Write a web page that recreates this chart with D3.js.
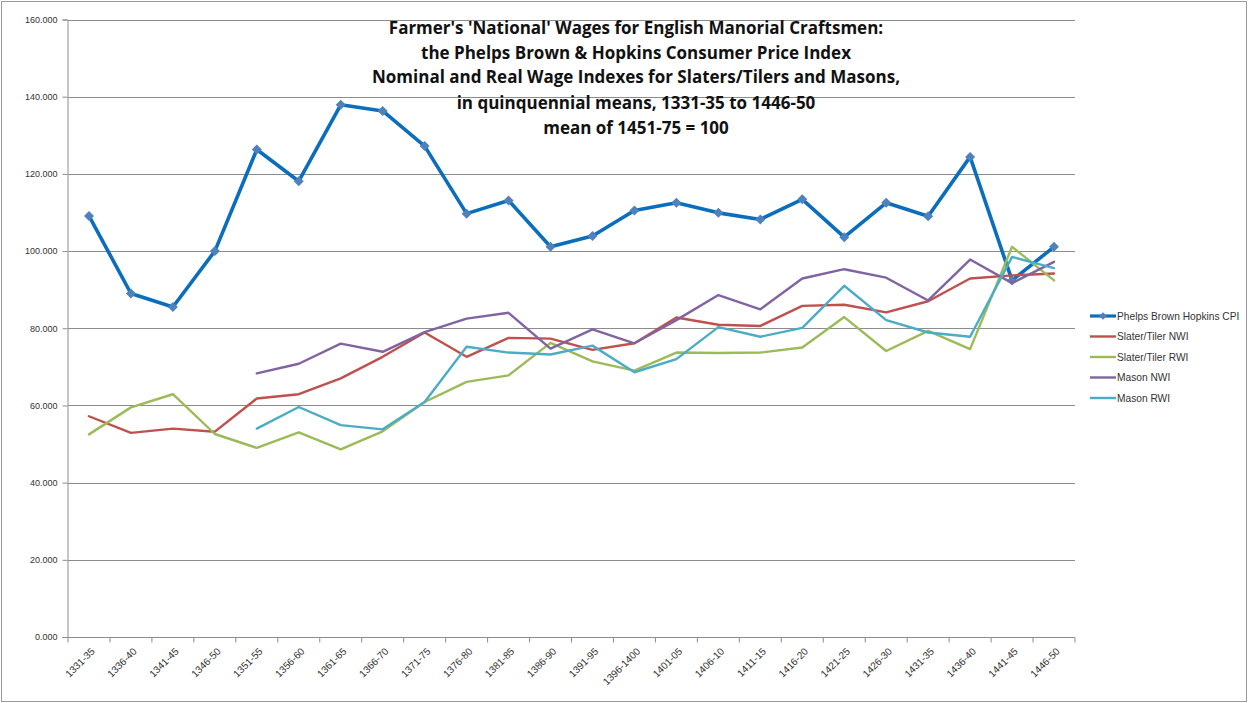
<!DOCTYPE html>
<html><head><meta charset="utf-8">
<script src="https://cdn.jsdelivr.net/npm/d3@7"></script>
<style>
html,body{margin:0;padding:0;background:#fff;}
svg{display:block;}
</style></head>
<body>
<svg id="chart" width="1248" height="703"></svg>
<script>
const categories = ["1331-35","1336-40","1341-45","1346-50","1351-55","1356-60","1361-65","1366-70","1371-75","1376-80","1381-85","1386-90","1391-95","1396-1400","1401-05","1406-10","1411-15","1416-20","1421-25","1426-30","1431-35","1436-40","1441-45","1446-50"];
const cpi       = [109.1, 89.0, 85.5, 100.0, 126.3, 118.1, 137.9, 136.3, 127.2, 109.7, 113.1, 101.1, 103.9, 110.5, 112.5, 109.9, 108.2, 113.4, 103.6, 112.5, 109.0, 124.4, 92.4, 101.1];
const slaterNWI = [57.2, 52.9, 54.0, 53.2, 61.8, 62.9, 67.0, 72.6, 78.9, 72.6, 77.5, 77.3, 74.4, 76.1, 82.8, 80.9, 80.6, 85.8, 86.1, 84.1, 87.0, 92.9, 93.7, 94.2];
const slaterRWI = [52.5, 59.5, 62.9, 52.6, 49.0, 53.0, 48.6, 53.3, 60.9, 66.1, 67.8, 76.2, 71.4, 69.0, 73.7, 73.6, 73.7, 75.0, 82.9, 74.1, 79.3, 74.6, 101.1, 92.4];
const masonNWI  = [null, null, null, null, 68.3, 70.8, 76.0, 73.9, 79.0, 82.5, 84.0, 74.7, 79.7, 76.1, 82.1, 88.6, 84.9, 92.9, 95.3, 93.1, 87.2, 97.8, 91.7, 97.2];
const masonRWI  = [null, null, null, null, 54.0, 59.6, 54.9, 53.8, 60.9, 75.2, 73.7, 73.2, 75.5, 68.6, 72.0, 80.3, 77.8, 80.1, 91.0, 82.1, 78.9, 77.8, 98.5, 95.6];
const yTicks = [0, 20, 40, 60, 80, 100, 120, 140, 160];
const seriesNames = ["Phelps Brown Hopkins CPI", "Slater/Tiler NWI", "Slater/Tiler RWI", "Mason NWI", "Mason RWI"];
const titleLines = ["Farmer's 'National' Wages for English Manorial Craftsmen:",
  "the Phelps Brown & Hopkins Consumer Price Index",
  "Nominal and Real Wage Indexes for Slaters/Tilers and Masons,",
  "in quinquennial means, 1331-35 to 1446-50",
  "mean of 1451-75 = 100"];

const series = [
  {name: seriesNames[0], values: cpi,       color: "#0A6EBD", width: 3.6, marker: true},
  {name: seriesNames[1], values: slaterNWI, color: "#C0504D", width: 2.4},
  {name: seriesNames[2], values: slaterRWI, color: "#9BBB59", width: 2.4},
  {name: seriesNames[3], values: masonNWI,  color: "#8064A2", width: 2.4},
  {name: seriesNames[4], values: masonRWI,  color: "#4BACC6", width: 2.4}
];

const svg = d3.select("#chart");
const plotLeft = 68, plotRight = 1075, plotTop = 19.5, plotBottom = 637;

// chart frame
svg.append("rect").attr("x", 1.5).attr("y", 1.5).attr("width", 1245).attr("height", 700)
  .attr("fill", "none").attr("stroke", "#9a9a9a").attr("stroke-width", 1);

const x = d3.scaleBand().domain(categories).range([plotLeft, plotRight]).padding(0);
const y = d3.scaleLinear().domain([0, 160]).range([plotBottom, plotTop]);

// gridlines
svg.append("g").selectAll("line").data(yTicks.filter(d => d > 0)).join("line")
  .attr("x1", plotLeft).attr("x2", plotRight)
  .attr("y1", d => Math.round(y(d)) + 0.5).attr("y2", d => Math.round(y(d)) + 0.5)
  .attr("stroke", "#8c8c8c").attr("stroke-width", 1);

// y axis
const yAxis = svg.append("g").attr("transform", `translate(${plotLeft - 0.5},0)`)
  .call(d3.axisLeft(y).tickValues(yTicks).tickFormat(d3.format(".3f")).tickSize(5).tickPadding(5));
yAxis.select(".domain").attr("stroke", "#8c8c8c");
yAxis.selectAll(".tick line").attr("stroke", "#8c8c8c");
yAxis.selectAll(".tick text").attr("font-family", "'Liberation Sans', Arial, sans-serif")
  .attr("font-size", "9px").attr("fill", "#333");

// x axis
const xAxisG = svg.append("g").attr("transform", `translate(0,${Math.round(plotBottom) + 0.5})`);
xAxisG.append("line").attr("x1", plotLeft - 0.5).attr("x2", plotRight).attr("y1", 0).attr("y2", 0).attr("stroke", "#8c8c8c");
const bounds = d3.range(categories.length + 1).map(i => plotLeft + i * x.bandwidth());
xAxisG.selectAll("line.tk").data(bounds).join("line").attr("class", "tk")
  .attr("x1", d => d).attr("x2", d => d).attr("y1", 0).attr("y2", 5).attr("stroke", "#8c8c8c");
xAxisG.selectAll("text").data(categories).join("text")
  .attr("transform", d => `translate(${x(d) + x.bandwidth() / 2 + 4},${12}) rotate(-45)`)
  .attr("text-anchor", "end").attr("dy", "0.35em")
  .attr("font-family", "'Liberation Sans', Arial, sans-serif").attr("font-size", "10px").attr("fill", "#333")
  .text(d => d);

// lines
const line = d3.line()
  .defined(d => d.v !== null)
  .x(d => x(d.c) + x.bandwidth() / 2)
  .y(d => y(d.v));

series.forEach(s => {
  const pts = s.values.map((v, i) => ({c: categories[i], v}));
  svg.append("path").datum(pts).attr("d", line)
    .attr("fill", "none").attr("stroke", s.color).attr("stroke-width", s.width)
    .attr("stroke-linejoin", "round").attr("stroke-linecap", "round");
  if (s.marker) {
    svg.append("g").selectAll("path").data(pts.filter(d => d.v !== null)).join("path")
      .attr("d", d3.symbol().type(d3.symbolSquare).size(50))
      .attr("transform", d => `translate(${x(d.c) + x.bandwidth() / 2},${y(d.v)}) rotate(45)`)
      .attr("fill", "#4F81BD");
  }
});

// title
svg.append("g").selectAll("text").data(titleLines).join("text")
  .attr("x", 636).attr("y", (d, i) => 34 + i * 24.5 + (i >= 3 ? 1.5 : 0))
  .attr("text-anchor", "middle")
  .attr("font-family", "'Open Sans', 'Liberation Sans', sans-serif").attr("font-weight", "bold")
  .attr("font-size", "17px").attr("fill", "#111")
  .text(d => d);

// legend
const lg = svg.append("g");
series.forEach((s, i) => {
  const ly = 316 + i * 20.5;
  lg.append("line").attr("x1", 1090).attr("x2", 1116).attr("y1", ly).attr("y2", ly)
    .attr("stroke", s.color).attr("stroke-width", s.marker ? 3.2 : 2.4);
  if (s.marker) {
    lg.append("path").attr("d", d3.symbol().type(d3.symbolSquare).size(30))
      .attr("transform", `translate(1103,${ly}) rotate(45)`).attr("fill", "#4F81BD");
  }
  lg.append("text").attr("x", 1117).attr("y", ly).attr("dy", "0.35em")
    .attr("font-family", "'Liberation Sans', Arial, sans-serif").attr("font-size", "10.2px").attr("fill", "#333")
    .text(s.name);
});
</script>
</body></html>
